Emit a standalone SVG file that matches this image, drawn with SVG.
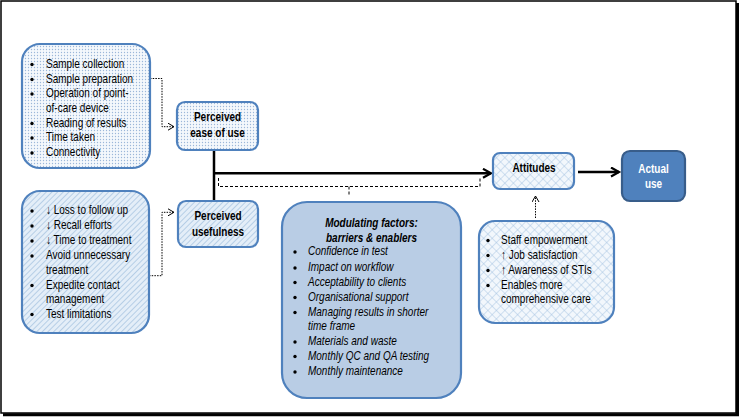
<svg xmlns="http://www.w3.org/2000/svg" width="740" height="417" viewBox="0 0 740 417">
<defs>
<pattern id="dots" width="3" height="3" patternUnits="userSpaceOnUse">
<rect width="3" height="3" fill="#f4f8fc"/>
<circle cx="1.5" cy="1.5" r="0.65" fill="#9bb7d9"/>
</pattern>
<pattern id="hatch" width="4" height="4" patternUnits="userSpaceOnUse" patternTransform="rotate(45)">
<rect width="4" height="4" fill="#e4eef8"/>
<line x1="0" y1="0" x2="0" y2="4" stroke="#aac6e2" stroke-width="1.6"/>
</pattern>
<pattern id="cross" width="6" height="6" patternUnits="userSpaceOnUse" patternTransform="rotate(45)">
<rect width="6" height="6" fill="#f2f7fc"/>
<line x1="0" y1="0" x2="6" y2="0" stroke="#9fbfe0" stroke-width="0.9"/>
<line x1="0" y1="0" x2="0" y2="6" stroke="#9fbfe0" stroke-width="0.9"/>
</pattern>
<marker id="solid" markerWidth="12" markerHeight="12" refX="9" refY="5" orient="auto" markerUnits="userSpaceOnUse">
<path d="M1,0.5 L9,5 L1,9.5" fill="none" stroke="#000" stroke-width="2.2"/>
</marker>
<marker id="open" markerWidth="10" markerHeight="10" refX="7" refY="4" orient="auto" markerUnits="userSpaceOnUse">
<path d="M1,0.5 L7,4 L1,7.5" fill="none" stroke="#000" stroke-width="1"/>
</marker>
</defs>
<style>
text{font-family:"Liberation Sans",Arial,sans-serif;font-size:12.5px;fill:#000}
.b{font-weight:bold;text-anchor:middle}
.bi{font-weight:bold;font-style:italic;text-anchor:middle}
.i{font-style:italic}
.w{fill:#fff}
.box{stroke:#4f81bd;stroke-width:2.2}
.dot{fill:#000}
.thick{stroke:#000;stroke-width:2.5;fill:none}
.dotted{stroke:#000;stroke-width:1;stroke-dasharray:1.5 1.2;fill:none}
.dashed{stroke:#000;stroke-width:1;stroke-dasharray:3 2;fill:none}
</style>
<rect width="740" height="417" fill="#fff"/>
<rect x="1" y="1" width="735" height="412" fill="none" stroke="#000" stroke-width="1.5"/>
<line x1="737.5" y1="3" x2="737.5" y2="416" stroke="#000" stroke-width="3"/>
<line x1="3" y1="414.8" x2="739" y2="414.8" stroke="#000" stroke-width="3"/>

<g id="connectors">
<path class="dotted" d="M150,78.5 H162 V126.7 H174" marker-end="url(#open)"/>
<path class="dotted" d="M149,275.7 H162 V212.3 H174" marker-end="url(#open)"/>
<line class="thick" x1="214" y1="150" x2="214" y2="201"/>
<line class="thick" x1="214" y1="173.3" x2="491" y2="173.3" marker-end="url(#solid)"/>
<path class="dashed" d="M218.5,178 V186.5 H480 V178"/>
<path class="dashed" d="M349,186.5 V195"/>
<line class="thick" x1="578" y1="172" x2="619" y2="172" marker-end="url(#solid)"/>
<line class="dotted" x1="535.5" y1="218" x2="535.5" y2="196" marker-end="url(#open)"/>
</g>

<g id="ease-inputs">
<rect class="box" x="22" y="44" width="128" height="124" rx="18" fill="url(#dots)"/>
<circle class="dot" cx="32" cy="64.5" r="1.7"/>
<circle class="dot" cx="32" cy="79.5" r="1.7"/>
<circle class="dot" cx="32" cy="94" r="1.7"/>
<circle class="dot" cx="32" cy="123.5" r="1.7"/>
<circle class="dot" cx="32" cy="138" r="1.7"/>
<circle class="dot" cx="32" cy="153" r="1.7"/>
<g transform="translate(46 0) scale(0.8 1)">
<text x="0" y="68">Sample collection</text>
<text x="0" y="83">Sample preparation</text>
<text x="0" y="97.5">Operation of point-</text>
<text x="0" y="112">of-care device</text>
<text x="0" y="127">Reading of results</text>
<text x="0" y="141.5">Time taken</text>
<text x="0" y="156.5">Connectivity</text>
</g>
</g>

<g id="usefulness-inputs">
<rect class="box" x="22" y="191" width="127" height="142" rx="18" fill="url(#hatch)"/>
<circle class="dot" cx="32" cy="211" r="1.7"/>
<circle class="dot" cx="32" cy="226" r="1.7"/>
<circle class="dot" cx="32" cy="241" r="1.7"/>
<circle class="dot" cx="32" cy="256" r="1.7"/>
<circle class="dot" cx="32" cy="285.5" r="1.7"/>
<circle class="dot" cx="32" cy="314.5" r="1.7"/>
<g transform="translate(46 0) scale(0.8 1)">
<text x="0" y="214.5">↓ Loss to follow up</text>
<text x="0" y="229.5">↓ Recall efforts</text>
<text x="0" y="244.5">↓ Time to treatment</text>
<text x="0" y="259.5">Avoid unnecessary</text>
<text x="0" y="274">treatment</text>
<text x="0" y="289">Expedite contact</text>
<text x="0" y="303">management</text>
<text x="0" y="318">Test limitations</text>
</g>
</g>

<g id="ease">
<rect class="box" x="177" y="102" width="81" height="48" rx="8" fill="url(#dots)"/>
<g transform="translate(217.5 0) scale(0.8 1)">
<text class="b" x="0" y="121">Perceived</text>
<text class="b" x="0" y="137.5">ease of use</text>
</g>
</g>

<g id="usefulness">
<rect class="box" x="178" y="201" width="80" height="46" rx="8" fill="url(#hatch)"/>
<g transform="translate(218 0) scale(0.8 1)">
<text class="b" x="0" y="220">Perceived</text>
<text class="b" x="0" y="236.5">usefulness</text>
</g>
</g>

<g id="modulating">
<rect class="box" x="282" y="202" width="179" height="196" rx="25" fill="#b9cde5"/>
<g transform="translate(371.5 0) scale(0.8 1)">
<text class="bi" x="0" y="227.5">Modulating factors:</text>
<text class="bi" x="0" y="242">barriers &amp; enablers</text>
</g>
<circle class="dot" cx="295" cy="252" r="1.7"/>
<circle class="dot" cx="295" cy="268" r="1.7"/>
<circle class="dot" cx="295" cy="282.5" r="1.7"/>
<circle class="dot" cx="295" cy="297.5" r="1.7"/>
<circle class="dot" cx="295" cy="312.5" r="1.7"/>
<circle class="dot" cx="295" cy="342" r="1.7"/>
<circle class="dot" cx="295" cy="356.5" r="1.7"/>
<circle class="dot" cx="295" cy="372" r="1.7"/>
<g transform="translate(308 0) scale(0.8 1)">
<text class="i" x="0" y="255.5">Confidence in test</text>
<text class="i" x="0" y="271.5">Impact on workflow</text>
<text class="i" x="0" y="286">Acceptability to clients</text>
<text class="i" x="0" y="301">Organisational support</text>
<text class="i" x="0" y="316">Managing results in shorter</text>
<text class="i" x="0" y="330.5">time frame</text>
<text class="i" x="0" y="345.5">Materials and waste</text>
<text class="i" x="0" y="360">Monthly QC and QA testing</text>
<text class="i" x="0" y="375.5">Monthly maintenance</text>
</g>
</g>

<g id="attitudes">
<rect class="box" x="493" y="153" width="81" height="36" rx="7" fill="url(#cross)"/>
<g transform="translate(534 0) scale(0.8 1)">
<text class="b" x="0" y="172">Attitudes</text>
</g>
</g>

<g id="actual-use">
<rect x="622" y="151" width="63" height="50" rx="8" fill="#4f81bd" stroke="#385d8a" stroke-width="2.2"/>
<g transform="translate(653.5 0) scale(0.8 1)">
<text class="b w" x="0" y="173.5">Actual</text>
<text class="b w" x="0" y="188">use</text>
</g>
</g>

<g id="attitude-inputs">
<rect class="box" x="479" y="221" width="135" height="102" rx="16" fill="url(#cross)"/>
<circle class="dot" cx="488" cy="240.5" r="1.7"/>
<circle class="dot" cx="488" cy="255.5" r="1.7"/>
<circle class="dot" cx="488" cy="270.5" r="1.7"/>
<circle class="dot" cx="488" cy="285.5" r="1.7"/>
<g transform="translate(501 0) scale(0.8 1)">
<text x="0" y="244">Staff empowerment</text>
<text x="0" y="259">↑ Job satisfaction</text>
<text x="0" y="274">↑ Awareness of STIs</text>
<text x="0" y="289">Enables more</text>
<text x="0" y="303.5">comprehensive care</text>
</g>
</g>
</svg>
